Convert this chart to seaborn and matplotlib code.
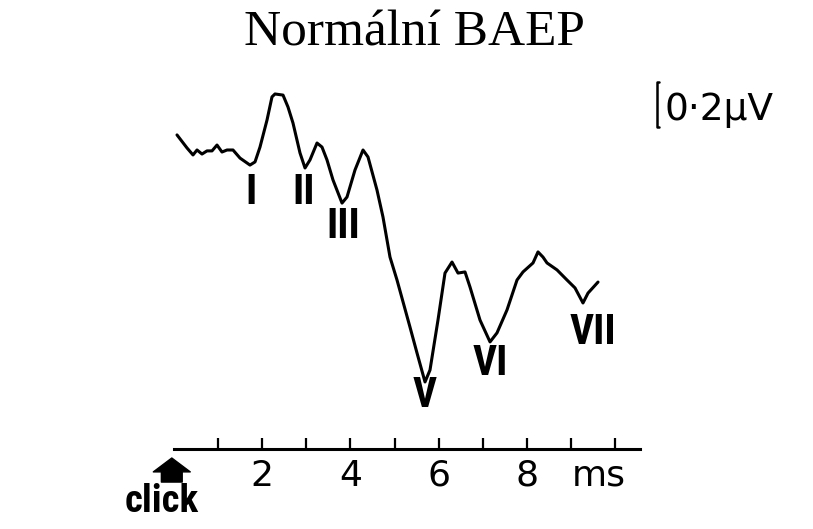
import matplotlib
matplotlib.use("Agg")
import matplotlib.pyplot as plt
import matplotlib.font_manager as fm
import seaborn as sns

# BAEP waveform (time in ms, amplitude in microvolts)
time_ms = [0.068, 0.295, 0.431, 0.522, 0.635, 0.748, 0.862, 0.975, 1.088, 1.202,
           1.338, 1.497, 1.723, 1.837, 1.950, 2.109, 2.222, 2.290, 2.472, 2.585,
           2.698, 2.857, 2.971, 3.084, 3.243, 3.356, 3.469, 3.605, 3.810, 3.923,
           4.104, 4.286, 4.399, 4.603, 4.739, 4.898, 5.057, 5.351, 5.510, 5.692,
           5.805, 5.986, 6.145, 6.304, 6.440, 6.599, 6.712, 6.939, 7.166, 7.324,
           7.551, 7.778, 7.914, 8.141, 8.254, 8.367, 8.458, 8.685, 8.912, 9.093,
           9.274, 9.388, 9.615]
amp_uv = [0.067, 0.009, -0.022, 0.000, -0.018, -0.004, -0.004, 0.022, -0.009, 0.000,
          0.000, -0.036, -0.067, -0.053, 0.013, 0.133, 0.236, 0.249, 0.244, 0.191,
          0.120, -0.013, -0.080, -0.044, 0.031, 0.013, -0.044, -0.133, -0.236, -0.209,
          -0.089, 0.000, -0.031, -0.178, -0.298, -0.476, -0.578, -0.787, -0.902, -1.031,
          -0.978, -0.756, -0.547, -0.498, -0.547, -0.542, -0.609, -0.756, -0.853, -0.813,
          -0.711, -0.578, -0.542, -0.502, -0.453, -0.476, -0.502, -0.533, -0.578, -0.613,
          -0.680, -0.636, -0.587]

# wave labels and where they sit
wave_names = ["I", "II", "III", "V", "VI", "VII"]
wave_x = [1.75, 2.93, 3.83, 5.69, 7.17, 9.50]
wave_y = [-0.187, -0.187, -0.342, -1.093, -0.947, -0.809]

major_ticks = [2, 4, 6, 8]
minor_ticks = [1, 3, 5, 7, 9, 10]
scale_uv = 0.2

sns.set_style("white")
plt.rcParams['font.family'] = ['DejaVu Sans']
plt.rcParams['text.color'] = 'black'
plt.rcParams['xtick.color'] = 'black'

# a narrow bold face for the wave numerals, if one is installed
names = {f.name for f in fm.fontManager.ttflist}
narrow, stretch = 'Roboto', 'normal'
for cand in ['Liberation Sans Narrow', 'Roboto Condensed', 'Open Sans Condensed']:
    if cand in names:
        narrow = cand
        break
else:
    if any(f.name == 'DejaVu Sans' and f.stretch == 'condensed' for f in fm.fontManager.ttflist):
        narrow, stretch = 'DejaVu Sans', 'condensed'

fig = plt.figure(figsize=(8.13, 5.29), dpi=100)
ax = fig.add_axes([174 / 813, 80 / 529, (640 - 174) / 813, 389 / 529])

sns.lineplot(x=time_ms, y=amp_uv, ax=ax, color='black', lw=2.2, sort=False)

ax.set_xlim(0, (640 - 174) / 44.1)
ax.set_ylim(-1.329, 0.4)

for s in ['left', 'top', 'right']:
    ax.spines[s].set_visible(False)
ax.spines['bottom'].set_linewidth(2.2)
ax.spines['bottom'].set_color('black')
ax.set_yticks([])
ax.set_xticks(major_ticks)
ax.set_xticks(minor_ticks, minor=True)
ax.set_xticklabels([str(t) for t in major_ticks])
ax.tick_params(axis='x', which='both', bottom=True, direction='in', length=8,
               width=1.6, color='black', labelcolor='black')
ax.tick_params(axis='x', which='major', labelsize=26, pad=7)
ax.set_xlabel('')
ax.set_ylabel('')

ax.annotate('ms', xy=(9.64, 0), xycoords=('data', 'axes fraction'),
            xytext=(0, -7), textcoords='offset points', ha='center', va='top',
            fontsize=26, color='black', annotation_clip=False)

for name, x, y in zip(wave_names, wave_x, wave_y):
    ax.text(x, y, name, ha='center', va='center', fontsize=30, color='black',
            fontweight='bold', family=narrow, fontstretch=stretch)

# 0.2 uV scale bracket
ax.plot([10.99, 10.95, 10.95, 10.99], [0.1 + scale_uv, 0.1 + scale_uv, 0.1, 0.1],
        color='black', lw=1.8, clip_on=False)
ax.text(11.13, 0.178, '0·2µV', ha='left', va='center', fontsize=27, color='black')

# click arrow
ax.annotate('', xy=(-0.05, -1.369), xytext=(-0.05, -1.476),
            arrowprops=dict(arrowstyle='simple,head_length=0.5,head_width=1.33,tail_width=0.75',
                            fc='black', ec='black', shrinkA=0, shrinkB=0, mutation_scale=20),
            annotation_clip=False)
ax.text(-0.27, -1.564, 'click', ha='center', va='center', fontsize=28, color='black',
        fontweight='bold', family=narrow, fontstretch=stretch)

fig.text(414 / 813, 1 - 33 / 529, 'Normální BAEP', ha='center', va='center',
         fontsize=37, family='Liberation Serif', color='black')

fig.savefig('out.png', dpi=100)
